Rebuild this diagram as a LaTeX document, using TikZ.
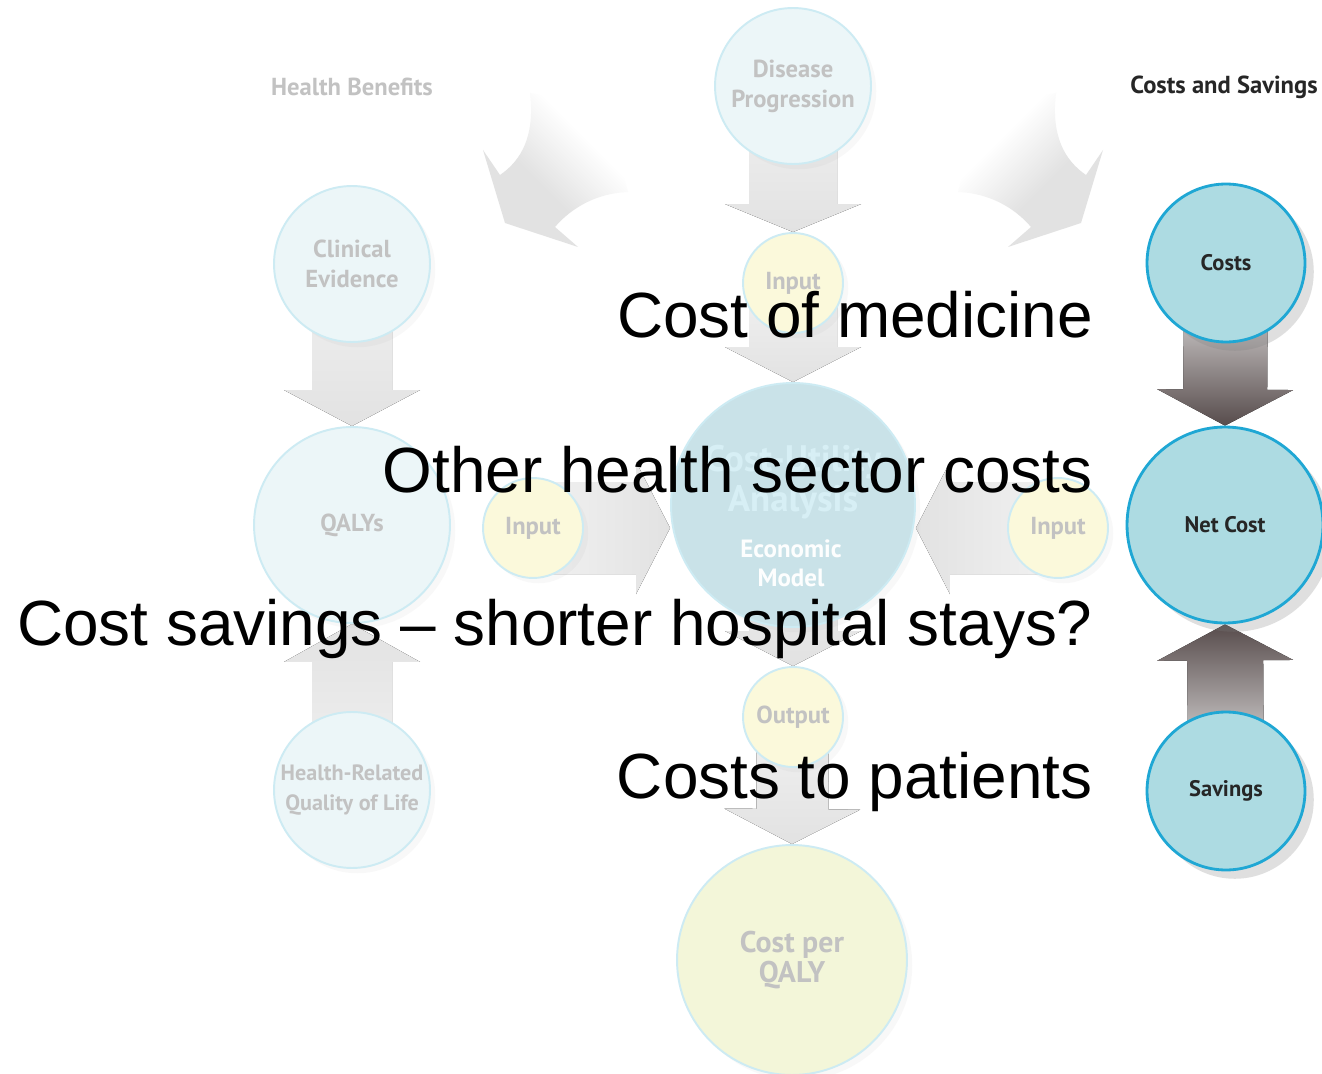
\documentclass[tikz,border=0pt]{standalone}
\usepackage{fontspec}
\setmainfont{Liberation Sans}
\newfontfamily\myriad{PT Sans}
\usetikzlibrary{calc,shadows,backgrounds}

\definecolor{paleblue}{HTML}{ECF6F8}
\definecolor{paleedge}{HTML}{CDEBF3}
\definecolor{paleyellow}{HTML}{FBF9DB}
\definecolor{palegreen}{HTML}{F3F6D9}
\definecolor{centreblue}{HTML}{C9E2E8}
\definecolor{costblue}{HTML}{ADDBE2}
\definecolor{costedge}{HTML}{1FA7D4}
\definecolor{fadetext}{HTML}{C2C2C2}
\definecolor{fadearrow}{HTML}{E2E2E2}
\definecolor{lightarrow}{HTML}{C9C4C4}
\definecolor{darkarrow}{HTML}{574C4C}

% head grey, tail fading out
\pgfdeclareverticalshading{curvefade}{100bp}{color(0bp)=(fadearrow); color(43bp)=(fadearrow); color(65bp)=(white); color(100bp)=(white)}

\tikzset{
  fadecirc/.style={circle, inner sep=0pt, fill=paleblue, draw=paleedge, line width=1.1pt,
    text=fadetext, align=center, font=\myriad\bfseries\fontsize{14}{17}\selectfont,
    drop shadow={shadow xshift=3pt, shadow yshift=-3pt, opacity=0.05}},
  inputcirc/.style={fadecirc, fill=paleyellow},
  costcirc/.style={circle, inner sep=0pt, fill=costblue, draw=costedge, line width=1.6pt,
    text=black!85, font=\myriad\bfseries\fontsize{12.8}{14}\selectfont,
    drop shadow={shadow xshift=5pt, shadow yshift=-5pt, opacity=0.25}},
  headtext/.style={font=\myriad\bfseries\fontsize{14}{16}\selectfont},
  bigtext/.style={anchor=base east, inner sep=0pt, font=\fontsize{36.35}{40}\selectfont},
  fadedown/.style={top color=fadearrow!45, bottom color=fadearrow},
  fadeup/.style={top color=fadearrow, bottom color=fadearrow!45},
  faderight/.style={left color=fadearrow!45, right color=fadearrow},
  fadeleft/.style={left color=fadearrow, right color=fadearrow!45},
  costdown/.style={top color=white, middle color=lightarrow, bottom color=darkarrow},
  costup/.style={top color=darkarrow, middle color=lightarrow, bottom color=white},
  fadecurve/.style={shade, shading=curvefade},
}

% block arrow: style, from node, tip, shaft half width, head half width, head length (px)
\newcommand\blockarrow[6]{%
  \coordinate (ba-base) at ($(#3)!#6*0.02cm!(#2)$);
  \fill[#1] ($(#2)!#4*0.02cm!90:(#3)$) -- ($(ba-base)!#4*0.02cm!-90:(#2)$)
    -- ($(ba-base)!#5*0.02cm!-90:(#2)$) -- (#3) -- ($(ba-base)!#5*0.02cm!90:(#2)$)
    -- ($(ba-base)!#4*0.02cm!90:(#2)$) -- ($(#2)!#4*0.02cm!-90:(#3)$) -- cycle;}

\begin{document}
\begin{tikzpicture}[x=0.02cm, y=-0.02cm]
\useasboundingbox (0,0) rectangle (1322,1074);

% headings
\node[headtext, text=fadetext] (benefits) at (352,87) {Health Benefits};
\node[headtext, text=black!85] (costsav) at (1224,87) {Costs and Savings};

% health benefits column
\node[fadecirc, minimum size=3.12cm] (clin) at (352,264) {Clinical\\Evidence};
\node[fadecirc, minimum size=3.92cm] (qaly) at (352,525) {QALYs};
\node[fadecirc, minimum size=3.12cm, font=\myriad\bfseries\fontsize{12.6}{17}\selectfont] (hrql) at (352,790) {Health-Related\\Quality of Life};

% model column
\node[fadecirc, minimum size=3.12cm] (dis) at (793,86) {Disease\\Progression};
\node[inputcirc, minimum size=2cm] (inT) at (793,283) {Input};
\node[fadecirc, fill=centreblue, minimum size=4.88cm] (centre) at (793,505) {};
\node[text=paleedge!80!white, align=center, font=\myriad\bfseries\fontsize{21}{23}\selectfont] (cua) at (793,482) {Cost-Utility\\Analysis};
\node[text=white!96!centreblue, align=center, font=\myriad\bfseries\fontsize{14.2}{16.5}\selectfont] (econ) at (791,563) {Economic\\Model};
\node[inputcirc, minimum size=2cm] (inL) at (533,528) {Input};
\node[inputcirc, minimum size=2cm] (inR) at (1058,528) {Input};
\node[inputcirc, minimum size=2cm] (outp) at (793,717) {Output};
\node[fadecirc, fill=palegreen, minimum size=4.6cm, font=\myriad\bfseries\fontsize{17}{17}\selectfont] (cpq) at (792,960) {Cost per\\QALY};
\coordinate (tipL) at (centre.west |- inL);
\coordinate (tipR) at (centre.east |- inR);

% costs column
\node[costcirc, minimum size=3.16cm] (costs) at (1226,263) {Costs};
\node[costcirc, minimum size=3.92cm] (net) at (1225,525) {Net Cost};
\node[costcirc, minimum size=3.16cm] (sav) at (1226,791) {Savings};

\begin{scope}[on background layer]
  \fill[white] (0,0) rectangle (1322,1074);
  % curved arrows under the headings
  \path[fadecurve, shading angle=-45]
    (530,93) .. controls (535,135) and (522,160) .. (500,175) -- (483,150) -- (505,223)
    -- (578,247) -- (555,227) .. controls (572,207) and (598,193) .. (628,192)
    .. controls (615,140) and (575,100) .. (530,93) -- cycle;
  \path[fadecurve, shading angle=45]
    (1056,93) .. controls (1051,135) and (1064,160) .. (1086,175) -- (1103,150) -- (1081,223)
    -- (1008,247) -- (1031,227) .. controls (1014,207) and (988,193) .. (958,192)
    .. controls (971,140) and (1011,100) .. (1056,93) -- cycle;
  \blockarrow{fadedown}{dis}{inT.north}{44}{68}{28}
  \blockarrow{fadedown}{inT}{centre.north}{44}{68}{35}
  \blockarrow{fadedown}{clin}{qaly.north}{40}{68}{36}
  \blockarrow{fadeup}{hrql}{qaly.south}{40}{68}{38}
  \blockarrow{faderight}{inL}{tipL}{46}{66}{34}
  \blockarrow{fadeleft}{inR}{tipR}{46}{66}{34}
  \blockarrow{fadedown}{centre}{outp.north}{44}{68}{35}
  \blockarrow{fadedown}{outp}{cpq.north}{36}{68}{35}
  \blockarrow{costdown}{costs}{net.north}{42}{68}{36}
  \blockarrow{costup}{sav}{net.south}{38}{68}{36}
\end{scope}

% spoken points
\node[bigtext] (medicine) at (1093,338) {Cost of medicine};
\node[bigtext] (othercosts) at (1093,492) {Other health sector costs};
\node[bigtext] (staysave) at (1093,645) {Cost savings -- shorter hospital stays?};
\node[bigtext] (patients) at (1093,798) {Costs to patients};
\end{tikzpicture}
\end{document}
